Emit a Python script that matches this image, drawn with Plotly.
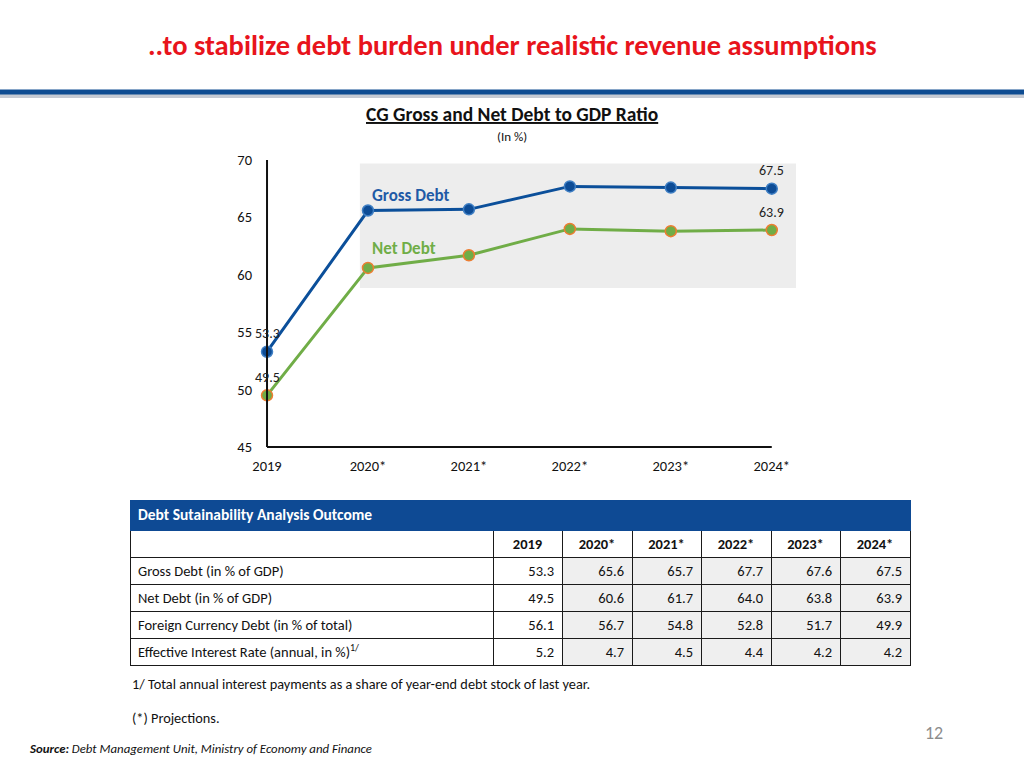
import plotly.graph_objects as go

# ---------------- data ----------------
years = ["2019", "2020*", "2021*", "2022*", "2023*", "2024*"]
gross_debt = [53.3, 65.6, 65.7, 67.7, 67.6, 67.5]
net_debt = [49.5, 60.6, 61.7, 64.0, 63.8, 63.9]
fx_debt = [56.1, 56.7, 54.8, 52.8, 51.7, 49.9]
eff_rate = [5.2, 4.7, 4.5, 4.4, 4.2, 4.2]
row_labels = [
    "Gross Debt (in % of GDP)",
    "Net Debt (in % of GDP)",
    "Foreign Currency Debt (in % of total)",
    "Effective Interest Rate (annual, in %)",
]
table_title = "Debt Sutainability Analysis Outcome"
y_ticks = [45, 50, 55, 60, 65, 70]

W, H = 1024, 768
FONT = "Carlito, Lato, 'Liberation Sans', sans-serif"


def px_x(p):
    return p / W


def px_y(p):
    return 1 - p / H


BLUE = "#0B4F9A"
GREEN = "#70AD47"
ORANGE = "#ED7D31"
TBL_BLUE = "#0E4A94"
LINE = "#1A1A1A"
GRAY = "#EFEFEF"

fig = go.Figure()

fig.add_trace(go.Scatter(
    x=years, y=gross_debt, mode="lines+markers", name="Gross Debt",
    line=dict(color=BLUE, width=3),
    marker=dict(size=11, color="#0D4C96", line=dict(color="#3F7FC4", width=1.5)),
    hoverinfo="x+y", showlegend=False, cliponaxis=False,
))
fig.add_trace(go.Scatter(
    x=years, y=net_debt, mode="lines+markers", name="Net Debt",
    line=dict(color=GREEN, width=3),
    marker=dict(size=11, color=GREEN, line=dict(color=ORANGE, width=1.5)),
    hoverinfo="x+y", showlegend=False, cliponaxis=False,
))

col_widths = [363, 69, 70, 69, 70, 69, 70]

# table part 1: title row (header) + year row (cells)
fig.add_trace(go.Table(
    domain=dict(x=[px_x(130), px_x(910)], y=[px_y(560), px_y(500)]),
    columnwidth=col_widths,
    header=dict(
        values=[table_title] + [" "] * len(years),
        fill_color=TBL_BLUE,
        line=dict(color=TBL_BLUE, width=1),
        font=dict(family=FONT, size=15.5, color="white", weight="bold"),
        align="left", height=30,
    ),
    cells=dict(
        values=[[" "]] + [[yr] for yr in years],
        fill_color="white",
        line=dict(color=LINE, width=1),
        font=dict(family=FONT, size=14.5, color="#111111", weight="bold"),
        align="center", height=27,
    ),
))

# table part 2: data rows (first data row as header)
def fmt(v):
    return f"{v:.1f}"


first_row = [row_labels[0]] + [fmt(v) for v in gross_debt]
rest_cols = [row_labels[1:]] + [[fmt(net_debt[j]), fmt(fx_debt[j]), fmt(eff_rate[j])]
                                for j in range(len(years))]
fills = ["white", "white"] + [GRAY] * (len(years) - 1)
aligns = ["left"] + ["right"] * len(years)

fig.add_trace(go.Table(
    domain=dict(x=[px_x(130), px_x(910)], y=[px_y(690), px_y(557)]),
    columnwidth=col_widths,
    header=dict(
        values=first_row,
        fill_color=fills,
        line=dict(color=LINE, width=1),
        font=dict(family=FONT, size=14.5, color="#111111"),
        align=aligns, height=27,
    ),
    cells=dict(
        values=rest_cols,
        fill_color=fills,
        line=dict(color=LINE, width=1),
        font=dict(family=FONT, size=14.5, color="#111111"),
        align=aligns, height=27,
    ),
))

shapes = [
    # top blue bar and shadow
    dict(type="rect", xref="paper", yref="paper", x0=0, x1=1,
         y0=px_y(98), y1=px_y(94), fillcolor="#C5CAD3", line=dict(width=0), layer="below"),
    dict(type="rect", xref="paper", yref="paper", x0=0, x1=1,
         y0=px_y(94.5), y1=px_y(89.5), fillcolor="#0E4C92", line=dict(width=0), layer="below"),
    # projection band
    dict(type="rect", xref="x", yref="y", x0=0.92, x1=5.24, y0=58.85, y1=69.7,
         fillcolor="#EDEDED", line=dict(width=0), layer="below"),
    # x axis line
    dict(type="line", xref="x", yref="paper", x0=0, x1=5,
         y0=px_y(447), y1=px_y(447), line=dict(color="#111111", width=2)),
    # y axis line at the first category
    dict(type="line", xref="x", yref="y", x0=0, x1=0, y0=45, y1=70,
         line=dict(color="#111111", width=2)),
]


def note(text, x, y, size, color="#111111", xanchor="center"):
    return dict(text=text, x=x, y=y, xref="paper", yref="paper", xanchor=xanchor,
                yanchor="middle", showarrow=False, font=dict(family=FONT, size=size, color=color))


annotations = [
    note("<b>..to stabilize debt burden under realistic revenue assumptions</b>",
         0.5, px_y(45), 28.5, "#E8141C"),
    note("<b><u>CG Gross and Net Debt to GDP Ratio</u></b>", 0.5, px_y(114), 19.5),
    note("(In %)", 0.5, px_y(137), 13),
    # superscript footnote marker of the last table row label
    note("1/", px_x(348), px_y(647), 10, xanchor="left"),
    note("1/ Total annual interest payments as a share of year-end debt stock of last year.",
         px_x(130), px_y(684), 14.3, xanchor="left"),
    note("(*) Projections.", px_x(130), px_y(718), 14.3, xanchor="left"),
    note("<b><i>Source:</i></b><i> Debt Management Unit, Ministry of Economy and Finance</i>",
         px_x(27), px_y(748), 12.8, xanchor="left"),
    note("12", px_x(934), px_y(733), 18, "#8C8C8C"),
    dict(text="<b>Gross Debt</b>", x=1.02, y=66.95, xref="x", yref="y", xanchor="left",
         yanchor="middle", showarrow=False, font=dict(family=FONT, size=17, color="#1F5AA6")),
    dict(text="<b>Net Debt</b>", x=1.02, y=62.33, xref="x", yref="y", xanchor="left",
         yanchor="middle", showarrow=False, font=dict(family=FONT, size=17, color=GREEN)),
]
# data labels at first and last points (category index used for position)
for series in (gross_debt, net_debt):
    for idx in (0, len(years) - 1):
        annotations.append(dict(
            text=f"{series[idx]:.1f}", x=idx, y=series[idx], xref="x", yref="y",
            yshift=18, yanchor="middle", showarrow=False,
            font=dict(family=FONT, size=14, color="#222222")))

fig.update_layout(
    width=W, height=H, autosize=False,
    margin=dict(l=0, r=0, t=0, b=0, pad=0, autoexpand=False),
    paper_bgcolor="white", plot_bgcolor="white",
    font=dict(family=FONT, size=12, color="#222222"),
    showlegend=False,
    xaxis=dict(
        domain=[px_x(265), px_x(796)], range=[-0.02, 5.24], type="category",
        showgrid=False, zeroline=False, showline=False, ticks="", automargin=False,
        tickfont=dict(family=FONT, size=14.5, color="#111111"), ticklabelstandoff=8,
        fixedrange=True,
    ),
    yaxis=dict(
        domain=[px_y(447), px_y(160)], range=[45, 70], tickvals=y_ticks,
        showgrid=False, zeroline=False, showline=False, automargin=False,
        ticks="", tickfont=dict(family=FONT, size=14.5, color="#111111"),
        ticklabelstandoff=12, fixedrange=True,
    ),
    shapes=shapes,
    annotations=annotations,
)

fig.write_html("out.html", config={"displayModeBar": False, "responsive": False},
               post_script="document.body.style.margin='0';document.body.style.overflow='hidden';")
